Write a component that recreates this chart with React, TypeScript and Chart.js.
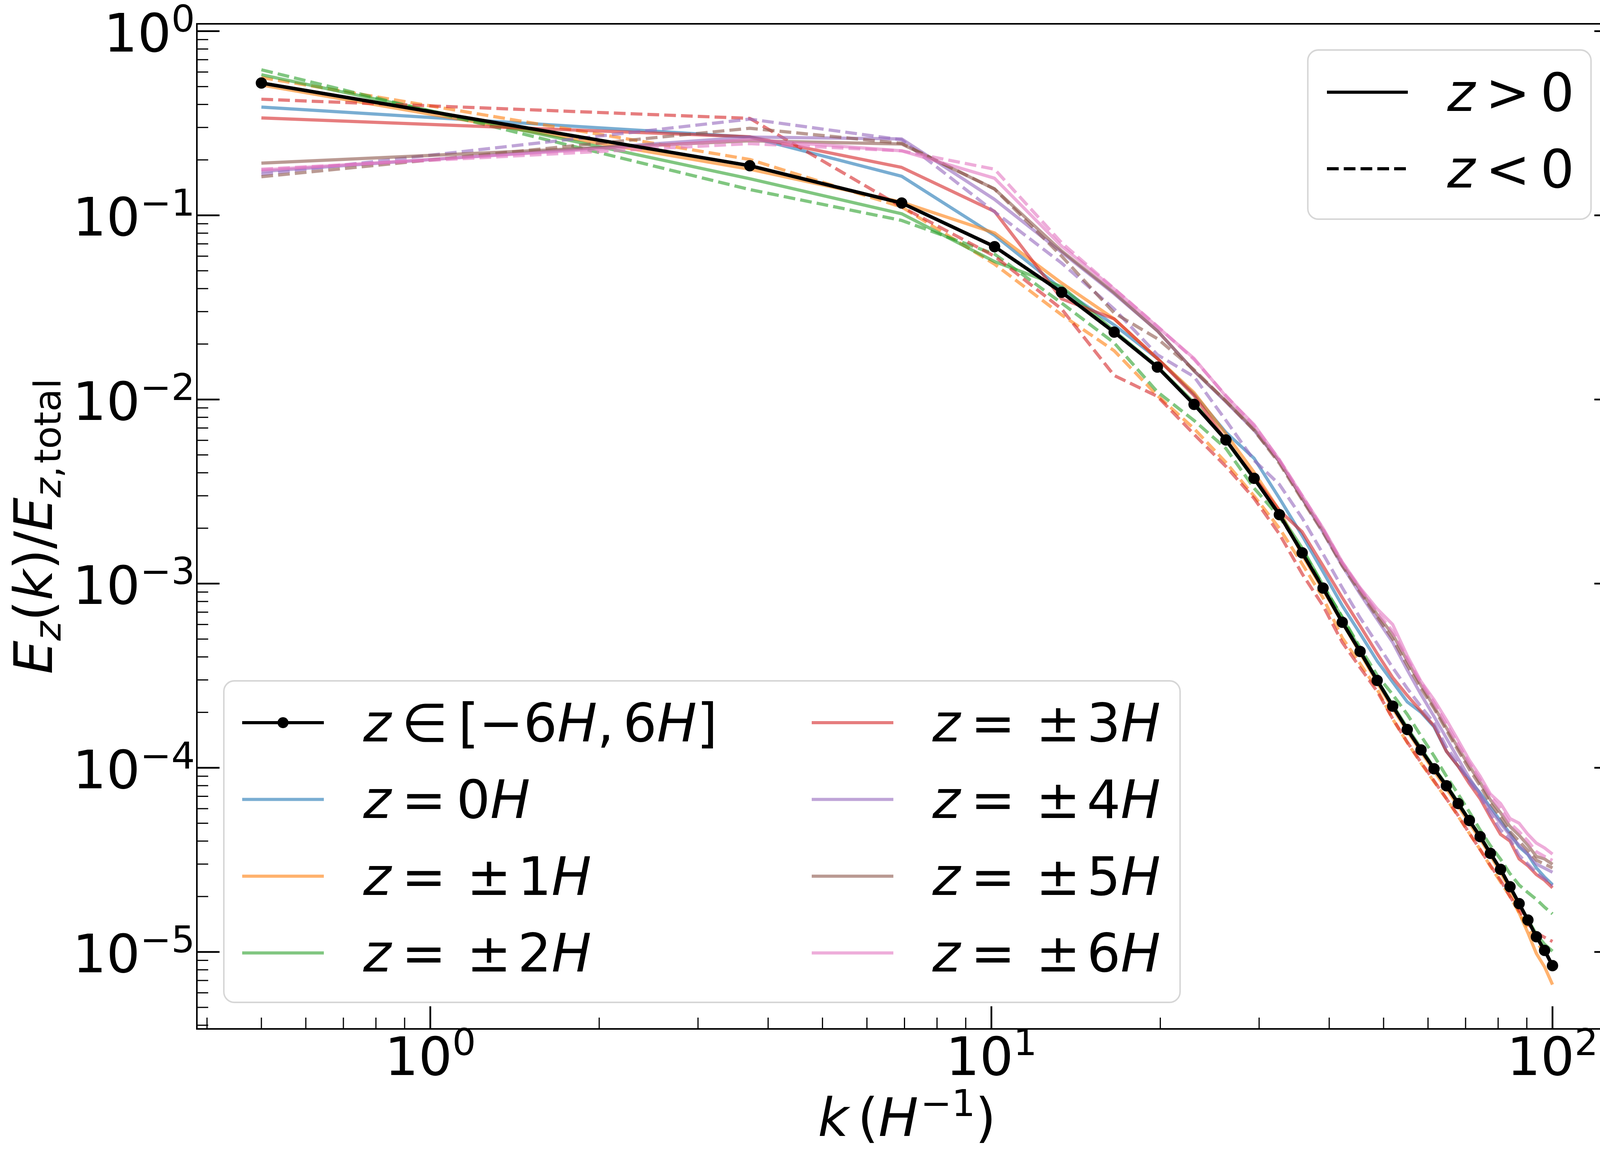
import React, { useEffect, useRef } from 'react';
import { Chart, registerables } from 'chart.js';

Chart.register(...registerables);

const CANVAS_W = 4170;
const CANVAS_H = 2967;

// ---------------- data ----------------
const kValues = [0.5, 3.71, 6.92, 10.13, 13.34, 16.55, 19.76, 22.97, 26.18, 29.39, 32.6, 35.8, 39.0, 42.2, 45.4, 48.7, 51.9, 55.1, 58.3, 61.5, 64.7, 67.9, 71.1, 74.3, 77.5, 80.8, 84.0, 87.2, 90.4, 93.6, 96.8, 100];

const zAll = [0.523, 0.186, 0.1166, 0.0676, 0.0382, 0.0232, 0.015, 0.0094, 0.00603, 0.00373, 0.00237, 0.00147, 0.000946, 0.000617, 0.000428, 0.000298, 0.000216, 0.0001615, 0.000125, 0.0000988, 0.0000799, 0.000064, 0.0000517, 0.0000423, 0.0000343, 0.0000281, 0.0000226, 0.0000183, 0.0000149, 0.0000121, 0.0000102, 0.00000843];

const z0 = [0.387, 0.266, 0.163, 0.0778, 0.0398, 0.0254, 0.0167, 0.0107, 0.00663, 0.00479, 0.00291, 0.00182, 0.00116, 0.00076, 0.000536, 0.00038, 0.000292, 0.000228, 0.0002, 0.000167, 0.000123, 0.000102, 0.000086, 0.000073, 0.000061, 0.0000514, 0.000044, 0.0000372, 0.0000338, 0.0000286, 0.0000255, 0.0000232];

const z1Pos = [0.51, 0.178, 0.118, 0.0802, 0.0429, 0.0274, 0.0167, 0.0109, 0.0065, 0.00402, 0.0025, 0.00143, 0.000925, 0.000615, 0.00042, 0.00029, 0.00021, 0.000158, 0.000122, 0.000096, 0.000077, 0.000062, 0.00005, 0.000041, 0.0000335, 0.000027, 0.000022, 0.0000163, 0.0000127, 0.0000098, 0.0000083, 0.00000665];
const z1Neg = [0.56, 0.201, 0.111, 0.0543, 0.0288, 0.0184, 0.0105, 0.00695, 0.00455, 0.00299, 0.002, 0.00128, 0.000837, 0.000508, 0.000368, 0.000267, 0.000184, 0.000137, 0.000106, 0.000084, 0.000068, 0.0000545, 0.000044, 0.000036, 0.0000292, 0.000024, 0.00002, 0.0000163, 0.0000135, 0.0000114, 0.0000098, 0.0000086];

const z2Pos = [0.58, 0.158, 0.102, 0.0561, 0.041, 0.0236, 0.0151, 0.00962, 0.006, 0.0037, 0.0024, 0.00156, 0.00098, 0.000653, 0.000438, 0.0003, 0.00022, 0.000165, 0.000128, 0.0001, 0.000081, 0.000065, 0.000052, 0.0000425, 0.0000345, 0.000028, 0.0000225, 0.0000182, 0.000015, 0.0000125, 0.000011, 0.0000101];
const z2Neg = [0.617, 0.138, 0.0938, 0.0616, 0.0334, 0.0203, 0.011, 0.00769, 0.00542, 0.0033, 0.0023, 0.00152, 0.00098, 0.00066, 0.00045, 0.000318, 0.00025, 0.000195, 0.000149, 0.000116, 0.00009, 0.000072, 0.0000575, 0.000046, 0.0000378, 0.0000319, 0.0000266, 0.0000231, 0.000021, 0.0000193, 0.0000175, 0.0000161];

const z3Pos = [0.338, 0.267, 0.182, 0.105, 0.0352, 0.0274, 0.0167, 0.0105, 0.006, 0.0038, 0.0025, 0.00191, 0.00125, 0.00084, 0.00059, 0.000417, 0.000309, 0.000247, 0.000203, 0.000169, 0.000123, 0.000102, 0.000082, 0.000068, 0.000054, 0.0000435, 0.00004, 0.000032, 0.0000294, 0.0000263, 0.0000245, 0.0000223];
const z3Neg = [0.427, 0.336, 0.111, 0.06, 0.031, 0.0135, 0.0104, 0.00647, 0.00433, 0.0029, 0.00186, 0.00113, 0.000758, 0.00048, 0.00035, 0.00026, 0.000185, 0.000138, 0.000107, 0.000085, 0.000068, 0.000055, 0.000044, 0.000036, 0.0000295, 0.0000245, 0.00002, 0.0000168, 0.0000142, 0.0000127, 0.000012, 0.0000114];

const z4Pos = [0.173, 0.266, 0.26, 0.122, 0.063, 0.0375, 0.0236, 0.0143, 0.0097, 0.0068, 0.0046, 0.0029, 0.0019, 0.00125, 0.00088, 0.00064, 0.00048, 0.00034, 0.00025, 0.00019, 0.000145, 0.000112, 0.000088, 0.000072, 0.000059, 0.00005, 0.000043, 0.000038, 0.000034, 0.00003, 0.0000285, 0.0000271];
const z4Neg = [0.167, 0.333, 0.257, 0.1045, 0.055, 0.031, 0.0175, 0.0133, 0.0077, 0.00467, 0.00346, 0.00227, 0.00145, 0.00095, 0.000653, 0.000472, 0.00035, 0.00027, 0.000215, 0.000175, 0.00013, 0.000105, 0.000084, 0.00007, 0.000056, 0.000046, 0.000041, 0.0000335, 0.00003, 0.000027, 0.000025, 0.0000229];

const z5Pos = [0.192, 0.254, 0.244, 0.139, 0.064, 0.038, 0.0236, 0.0143, 0.0098, 0.0069, 0.0046, 0.0029, 0.00195, 0.00128, 0.00093, 0.00068, 0.00053, 0.00038, 0.00028, 0.000215, 0.000165, 0.000128, 0.000102, 0.000083, 0.000067, 0.000057, 0.000048, 0.000043, 0.000038, 0.000033, 0.000032, 0.0000299];
const z5Neg = [0.162, 0.297, 0.246, 0.139, 0.06, 0.0295, 0.0214, 0.0145, 0.0098, 0.0068, 0.0045, 0.00285, 0.0019, 0.00125, 0.0009, 0.00066, 0.0005, 0.00036, 0.00027, 0.00021, 0.00016, 0.000124, 0.000098, 0.00008, 0.000064, 0.000054, 0.000045, 0.00004, 0.0000355, 0.0000315, 0.00003, 0.0000286];

const z6Pos = [0.176, 0.258, 0.224, 0.159, 0.068, 0.0398, 0.0248, 0.0167, 0.0104, 0.0073, 0.0047, 0.003, 0.002, 0.00131, 0.00095, 0.00073, 0.0006, 0.000406, 0.000294, 0.000234, 0.000182, 0.000141, 0.00011, 0.00009, 0.000072, 0.000064, 0.000053, 0.00005, 0.0000435, 0.000039, 0.0000367, 0.000034];
const z6Neg = [0.178, 0.245, 0.224, 0.178, 0.071, 0.04, 0.025, 0.0165, 0.0105, 0.0072, 0.0047, 0.003, 0.00198, 0.0013, 0.00094, 0.0007, 0.00055, 0.00039, 0.00029, 0.000225, 0.000172, 0.000134, 0.000106, 0.000086, 0.00007, 0.00006, 0.00005, 0.000045, 0.00004, 0.000035, 0.000033, 0.0000314];

const xRange = [0.3837, 130.3];
const yRange = [3.82e-6, 1.096];
const xMajorTicks = [1, 10, 100];
const xMajorExp = ['0', '1', '2'];
const yMajorTicks = [1e-5, 1e-4, 1e-3, 1e-2, 1e-1, 1];
const yMajorExp = ['\u22125', '\u22124', '\u22123', '\u22122', '\u22121', '0'];

const seriesLabels = ['z = 0H', 'z = \u00b11H', 'z = \u00b12H', 'z = \u00b13H', 'z = \u00b14H', 'z = \u00b15H', 'z = \u00b16H'];
const seriesNums = ['0', '1', '2', '3', '4', '5', '6'];
const seriesColors = [
  'rgba(31,119,180,0.6)',
  'rgba(255,127,14,0.6)',
  'rgba(44,160,44,0.6)',
  'rgba(214,39,40,0.6)',
  'rgba(148,103,189,0.6)',
  'rgba(140,86,75,0.6)',
  'rgba(227,119,194,0.6)',
];
const seriesPos = [z0, z1Pos, z2Pos, z3Pos, z4Pos, z5Pos, z6Pos];
const seriesNeg = [null, z1Neg, z2Neg, z3Neg, z4Neg, z5Neg, z6Neg];

// ---------------- text helpers ----------------
type Seg = { t: string; it?: boolean; sc?: number; dy?: number; gap?: number };
const FAMILY = '"DejaVu Sans", "Liberation Sans", sans-serif';
const FS = 136;
const SP = 0.195;

function setFont(ctx: CanvasRenderingContext2D, s: Seg, size: number) {
  const sz = size * (s.sc ?? 1);
  ctx.font = `${s.it ? 'italic ' : ''}${sz}px ${FAMILY}`;
}
function segsWidth(ctx: CanvasRenderingContext2D, segs: Seg[], size: number) {
  let w = 0;
  for (const s of segs) {
    setFont(ctx, s, size);
    w += (s.gap ?? 0) * size + ctx.measureText(s.t).width;
  }
  return w;
}
function drawSegs(ctx: CanvasRenderingContext2D, segs: Seg[], x: number, y: number, size: number) {
  let cx = x;
  ctx.textAlign = 'left';
  ctx.textBaseline = 'alphabetic';
  for (const s of segs) {
    setFont(ctx, s, size);
    cx += (s.gap ?? 0) * size;
    ctx.fillText(s.t, cx, y + (s.dy ?? 0) * size);
    cx += ctx.measureText(s.t).width;
  }
}
const powSegs = (exp: string): Seg[] => [{ t: '10' }, { t: exp, sc: 0.7, dy: -0.375 }];
const zLabelSegs = (n: string): Seg[] =>
  n === '0'
    ? [{ t: 'z', it: true }, { t: '=', gap: SP }, { t: n, gap: SP }, { t: 'H', it: true }]
    : [{ t: 'z', it: true }, { t: '=', gap: SP }, { t: '\u00b1', gap: 2 * SP }, { t: n, gap: 0.12 }, { t: 'H', it: true }];
const allLabelSegs: Seg[] = [
  { t: 'z', it: true }, { t: '\u2208', gap: SP }, { t: '[', gap: SP }, { t: '\u22126' }, { t: 'H', it: true },
  { t: ',' }, { t: '6', gap: 0.17 }, { t: 'H', it: true }, { t: ']' },
];
const xTitleSegs: Seg[] = [
  { t: 'k', it: true }, { t: '(', gap: 0.17 }, { t: 'H', it: true }, { t: '\u22121', sc: 0.7, dy: -0.375, gap: 0.04 }, { t: ')' },
];
const yTitleSegs: Seg[] = [
  { t: 'E', it: true }, { t: 'z', it: true, sc: 0.7, dy: 0.16 }, { t: '(' }, { t: 'k', it: true }, { t: ')' }, { t: '/' },
  { t: 'E', it: true }, { t: 'z', it: true, sc: 0.7, dy: 0.16 }, { t: ',', sc: 0.7, dy: 0.16 }, { t: 'total', sc: 0.7, dy: 0.16, gap: 0.05 },
];
const signSegs = (sym: string): Seg[] => [{ t: 'z', it: true }, { t: sym, gap: SP }, { t: '0', gap: SP }];

function roundRect(ctx: CanvasRenderingContext2D, x: number, y: number, w: number, h: number, r: number) {
  ctx.beginPath();
  ctx.moveTo(x + r, y);
  ctx.lineTo(x + w - r, y);
  ctx.arcTo(x + w, y, x + w, y + r, r);
  ctx.lineTo(x + w, y + h - r);
  ctx.arcTo(x + w, y + h, x + w - r, y + h, r);
  ctx.lineTo(x + r, y + h);
  ctx.arcTo(x, y + h, x, y + h - r, r);
  ctx.lineTo(x, y + r);
  ctx.arcTo(x, y, x + r, y, r);
  ctx.closePath();
}
function frame(ctx: CanvasRenderingContext2D, x: number, y: number, w: number, h: number) {
  roundRect(ctx, x, y, w, h, 27);
  ctx.fillStyle = 'rgba(255,255,255,0.8)';
  ctx.fill();
  ctx.lineWidth = 3.8;
  ctx.strokeStyle = 'rgba(204,204,204,0.8)';
  ctx.stroke();
}
function hLine(ctx: CanvasRenderingContext2D, x0: number, x1: number, y: number, color: string, lw: number, dash: number[]) {
  ctx.save();
  ctx.beginPath();
  ctx.setLineDash(dash);
  ctx.lineCap = 'butt';
  ctx.strokeStyle = color;
  ctx.lineWidth = lw;
  ctx.moveTo(x0, y);
  ctx.lineTo(x1, y);
  ctx.stroke();
  ctx.restore();
}

const LW = 8.2;
const LW_BLACK = 9;
const DASH = [30, 13];

const mplPlugin = {
  id: 'mplLook',
  beforeDraw(chart: any) {
    const ctx = chart.ctx as CanvasRenderingContext2D;
    ctx.save();
    ctx.fillStyle = '#ffffff';
    ctx.fillRect(0, 0, chart.width, chart.height);
    ctx.restore();
  },
  afterDraw(chart: any) {
    const ctx = chart.ctx as CanvasRenderingContext2D;
    const ca = chart.chartArea;
    const xs = chart.scales.x;
    const ys = chart.scales.y;
    ctx.save();
    ctx.fillStyle = '#000';

    // ---- legend: z>0 / z<0 ----
    frame(ctx, 3348, 128, 725, 433);
    hLine(ctx, 3397, 3604, 236, '#000', LW, []);
    hLine(ctx, 3397, 3604, 432, '#000', LW, DASH);
    ctx.fillStyle = '#000';
    drawSegs(ctx, signSegs('>'), 3705, 284, FS);
    drawSegs(ctx, signSegs('<'), 3705, 480, FS);

    // ---- legend: series ----
    frame(ctx, 573, 1743, 2448, 823);
    const rows = [1850, 2046.5, 2243, 2439.5];
    const cols = [{ h0: 620, h1: 829, tx: 930 }, { h0: 2078, h1: 2287, tx: 2387 }];
    const entries: { segs: Seg[]; color: string; marker: boolean }[] = [
      { segs: allLabelSegs, color: '#000', marker: true },
    ];
    for (let i = 0; i < seriesNums.length; i++) {
      entries.push({ segs: zLabelSegs(seriesNums[i]), color: seriesColors[i], marker: false });
    }
    entries.forEach((e, idx) => {
      const c = cols[Math.floor(idx / 4)];
      const ry = rows[idx % 4];
      hLine(ctx, c.h0, c.h1, ry, e.color, LW, []);
      if (e.marker) {
        ctx.beginPath();
        ctx.fillStyle = '#000';
        ctx.arc((c.h0 + c.h1) / 2, ry, 14, 0, Math.PI * 2);
        ctx.fill();
      }
      ctx.fillStyle = '#000';
      drawSegs(ctx, e.segs, c.tx, ry + 47.5, FS);
    });

    // ---- ticks ----
    ctx.strokeStyle = '#000';
    const tick = (x0: number, y0: number, x1: number, y1: number, lw: number) => {
      ctx.beginPath();
      ctx.setLineDash([]);
      ctx.lineWidth = lw;
      ctx.lineCap = 'butt';
      ctx.moveTo(x0, y0);
      ctx.lineTo(x1, y1);
      ctx.stroke();
    };
    const MAJ = 58, MIN = 29, MAJW = 4.5, MINW = 3;
    const minorVals = (lo: number, hi: number) => {
      const out: number[] = [];
      for (let e = Math.floor(Math.log10(lo)) - 1; e <= Math.ceil(Math.log10(hi)); e++) {
        for (let m = 2; m <= 9; m++) {
          const v = m * Math.pow(10, e);
          if (v >= lo && v <= hi) out.push(v);
        }
      }
      return out;
    };
    for (const v of yMajorTicks) {
      const py = ys.getPixelForValue(v);
      tick(ca.left, py, ca.left + MAJ, py, MAJW);
      tick(ca.right, py, ca.right - MAJ, py, MAJW);
    }
    for (const v of minorVals(yRange[0], yRange[1])) {
      const py = ys.getPixelForValue(v);
      tick(ca.left, py, ca.left + MIN, py, MINW);
      tick(ca.right, py, ca.right - MIN, py, MINW);
    }
    for (const v of xMajorTicks) {
      const px = xs.getPixelForValue(v);
      tick(px, ca.bottom, px, ca.bottom - MAJ, MAJW);
    }
    for (const v of minorVals(xRange[0], xRange[1])) {
      const px = xs.getPixelForValue(v);
      tick(px, ca.bottom, px, ca.bottom - MIN, MINW);
    }

    // ---- spines ----
    ctx.lineWidth = 4;
    ctx.strokeRect(ca.left, ca.top, ca.right - ca.left, ca.bottom - ca.top);

    // ---- tick labels ----
    ctx.fillStyle = '#000';
    yMajorTicks.forEach((v, i) => {
      const py = ys.getPixelForValue(v);
      const segs = powSegs(yMajorExp[i]);
      const w = segsWidth(ctx, segs, FS);
      drawSegs(ctx, segs, 499 - w, py + 52, FS);
    });
    xMajorTicks.forEach((v, i) => {
      const px = xs.getPixelForValue(v);
      const segs = powSegs(xMajorExp[i]);
      const w = segsWidth(ctx, segs, FS);
      drawSegs(ctx, segs, px - w / 2, 2752, FS);
    });

    // ---- axis titles ----
    const xc = (ca.left + ca.right) / 2;
    const xw = segsWidth(ctx, xTitleSegs, FS);
    drawSegs(ctx, xTitleSegs, xc - xw / 2, 2908, FS);

    const yc = (ca.top + ca.bottom) / 2;
    const yw = segsWidth(ctx, yTitleSegs, FS);
    ctx.save();
    ctx.translate(133, yc);
    ctx.rotate(-Math.PI / 2);
    drawSegs(ctx, yTitleSegs, -yw / 2, 0, FS);
    ctx.restore();

    ctx.restore();
  },
};

export default function App() {
  const canvasRef = useRef<HTMLCanvasElement | null>(null);

  useEffect(() => {
    document.body.style.margin = '0';
    document.body.style.overflow = 'hidden';
    const canvas = canvasRef.current;
    if (!canvas) return;

    const toPts = (arr: number[]) => arr.map((y, i) => ({ x: kValues[i], y }));
    const datasets: any[] = [];
    let ord = 100;
    for (let i = 0; i < seriesPos.length; i++) {
      datasets.push({
        label: seriesLabels[i] + ' (z>0)',
        data: toPts(seriesPos[i]),
        borderColor: seriesColors[i],
        backgroundColor: seriesColors[i],
        borderWidth: LW,
        pointRadius: 0,
        fill: false,
        tension: 0,
        borderJoinStyle: 'round',
        borderCapStyle: 'butt',
        order: ord--,
      });
      const neg = seriesNeg[i];
      if (neg) {
        datasets.push({
          label: seriesLabels[i] + ' (z<0)',
          data: toPts(neg),
          borderColor: seriesColors[i],
          backgroundColor: seriesColors[i],
          borderWidth: LW,
          borderDash: DASH,
          pointRadius: 0,
          fill: false,
          tension: 0,
          borderJoinStyle: 'round',
          borderCapStyle: 'butt',
          order: ord--,
        });
      }
    }
    datasets.push({
      label: 'z \u2208 [\u22126H, 6H]',
      data: toPts(zAll),
      borderColor: '#000000',
      backgroundColor: '#000000',
      borderWidth: LW_BLACK,
      pointRadius: 14.5,
      pointBorderWidth: 0,
      pointBackgroundColor: '#000000',
      fill: false,
      tension: 0,
      borderJoinStyle: 'round',
      order: 0,
    });

    const chart = new Chart(canvas, {
      type: 'line',
      data: { datasets },
      options: {
        animation: false,
        responsive: false,
        devicePixelRatio: 1,
        events: [],
        layout: { padding: { left: 504, top: 61, right: 30.5, bottom: 333 } },
        plugins: { legend: { display: false }, tooltip: { enabled: false }, title: { display: false } },
        scales: {
          x: { type: 'logarithmic', min: xRange[0], max: xRange[1], display: false },
          y: { type: 'logarithmic', min: yRange[0], max: yRange[1], display: false },
        },
      } as any,
      plugins: [mplPlugin as any],
    });
    return () => chart.destroy();
  }, []);

  return (
    <div style={{ position: 'absolute', left: 0, top: 0, width: CANVAS_W, height: CANVAS_H, overflow: 'hidden', background: '#fff' }}>
      <canvas ref={canvasRef} width={CANVAS_W} height={CANVAS_H} style={{ width: CANVAS_W, height: CANVAS_H, display: 'block' }} />
    </div>
  );
}
